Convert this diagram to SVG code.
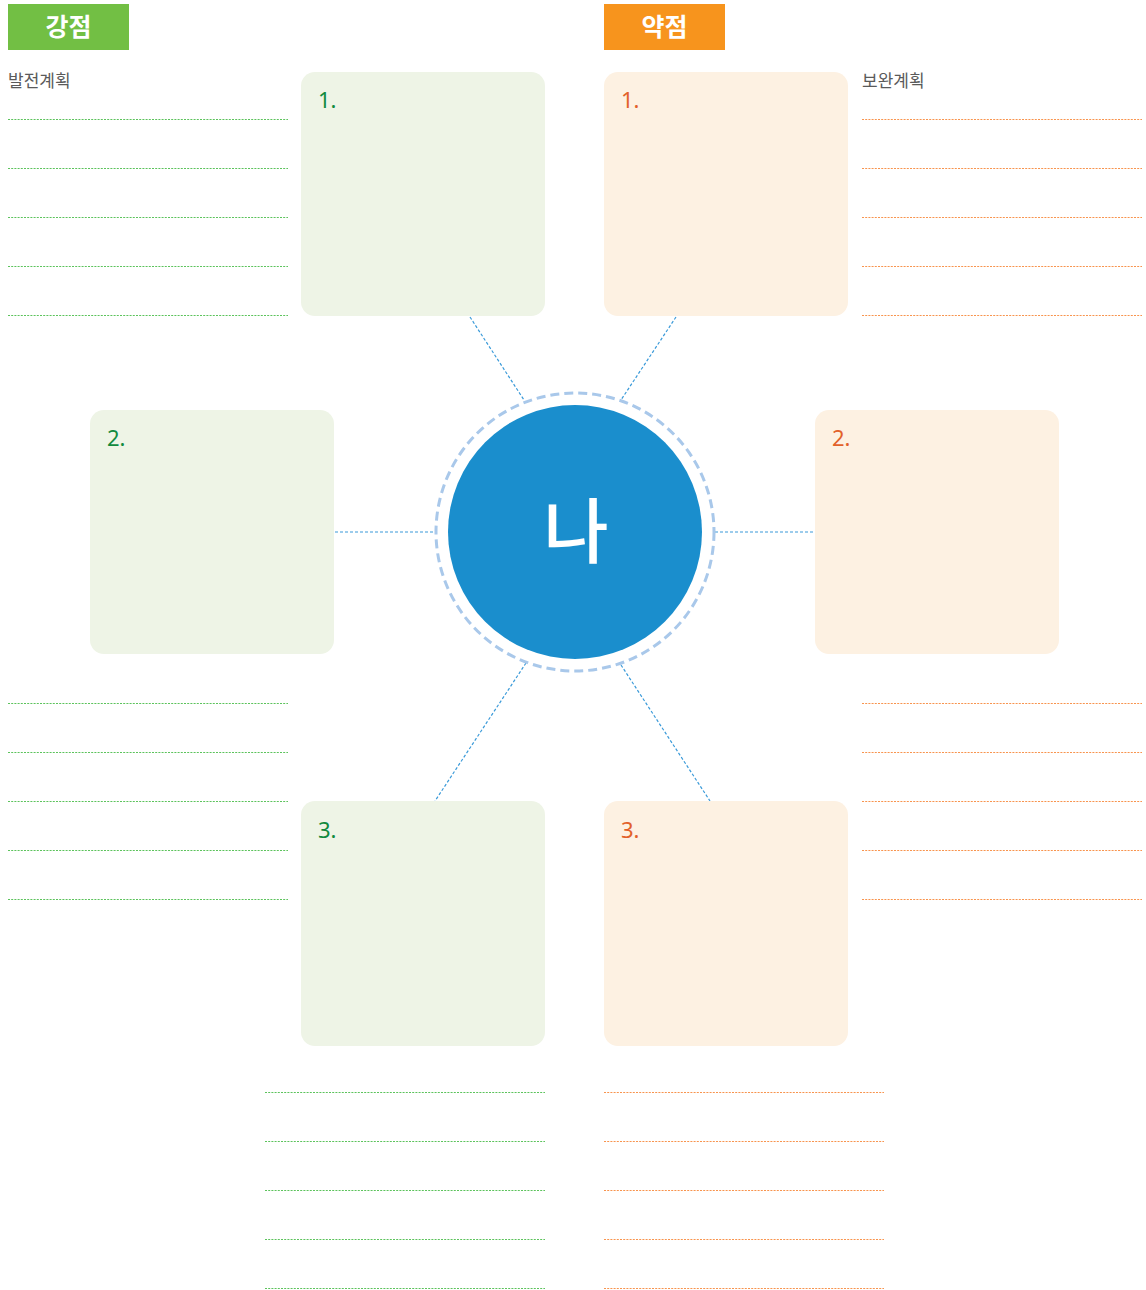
<svg xmlns="http://www.w3.org/2000/svg" width="1146" height="1290" viewBox="0 0 1146 1290">
<style>
.hdr{font-family:"Noto Sans CJK KR","Noto Sans",sans-serif;font-weight:bold;font-size:25px;fill:#fff;text-anchor:middle}
.sub{font-family:"Noto Sans CJK KR","Noto Sans",sans-serif;font-size:17px;fill:#5a5a5a}
.num{font-family:"Noto Sans","Noto Sans CJK KR",sans-serif;font-size:22px}
.gnum{fill:#118a3e}
.onum{fill:#e2612a}
.gbox{fill:#eef4e6}
.obox{fill:#fdf1e2}
.gl{stroke:#5cc35c;stroke-width:1;stroke-dasharray:2 1.2;fill:none}
.ol{stroke:#f8944e;stroke-width:1;stroke-dasharray:2 1.2;fill:none}
.conn{stroke:#3a9ad9;stroke-width:1.2;stroke-dasharray:3 2;fill:none}
</style>
<rect width="1146" height="1290" fill="#fff"/>
<g id="header-strength">
<rect x="8" y="4" width="121" height="46" fill="#72bf44"/>
<text class="hdr" x="68.5" y="36">강점</text>
</g>
<g id="header-weakness">
<rect x="604" y="4" width="121" height="46" fill="#f7941d"/>
<text class="hdr" x="664.5" y="36">약점</text>
</g>
<text class="sub" x="8" y="87">발전계획</text>
<text class="sub" x="862" y="87">보완계획</text>
<g id="lines-green">
<path class="gl" d="M8 119.5H288M8 168.5H288M8 217.5H288M8 266.5H288M8 315.5H288"/>
<path class="gl" d="M8 703.5H288M8 752.5H288M8 801.5H288M8 850.5H288M8 899.5H288"/>
<path class="gl" d="M265 1092.5H545M265 1141.5H545M265 1190.5H545M265 1239.5H545M265 1288.5H545"/>
</g>
<g id="lines-orange">
<path class="ol" d="M862 119.5H1142M862 168.5H1142M862 217.5H1142M862 266.5H1142M862 315.5H1142"/>
<path class="ol" d="M862 703.5H1142M862 752.5H1142M862 801.5H1142M862 850.5H1142M862 899.5H1142"/>
<path class="ol" d="M604 1092.5H884M604 1141.5H884M604 1190.5H884M604 1239.5H884M604 1288.5H884"/>
</g>
<g id="connectors">
<line class="conn" x1="470" y1="317" x2="524" y2="400"/>
<line class="conn" x1="676" y1="317" x2="621" y2="400"/>
<line class="conn" x1="335" y1="532" x2="437" y2="532"/>
<line class="conn" x1="715" y1="532" x2="815" y2="532"/>
<line class="conn" x1="526" y1="663" x2="435" y2="801"/>
<line class="conn" x1="621" y1="665" x2="710" y2="801"/>
</g>
<g id="strength-1">
<rect class="gbox" x="301" y="72" width="244" height="244" rx="14"/>
<text class="num gnum" x="318" y="108">1.</text>
</g>
<g id="weakness-1">
<rect class="obox" x="604" y="72" width="244" height="244" rx="14"/>
<text class="num onum" x="621" y="108">1.</text>
</g>
<g id="strength-2">
<rect class="gbox" x="90" y="410" width="244" height="244" rx="14"/>
<text class="num gnum" x="107" y="446">2.</text>
</g>
<g id="weakness-2">
<rect class="obox" x="815" y="410" width="244" height="244" rx="14"/>
<text class="num onum" x="832" y="446">2.</text>
</g>
<g id="strength-3">
<rect class="gbox" x="301" y="801" width="244" height="245" rx="14"/>
<text class="num gnum" x="318" y="838">3.</text>
</g>
<g id="weakness-3">
<rect class="obox" x="604" y="801" width="244" height="245" rx="14"/>
<text class="num onum" x="621" y="838">3.</text>
</g>
<g id="me">
<circle cx="575" cy="532" r="139" fill="none" stroke="#a9c8ea" stroke-width="3" stroke-dasharray="9 5"/>
<circle cx="575" cy="532" r="127" fill="#1a8ecd"/>
<text x="576" y="557" font-family="Noto Sans CJK KR,sans-serif" font-weight="500" font-size="71" fill="#fff" text-anchor="middle">나</text>
</g>
</svg>
